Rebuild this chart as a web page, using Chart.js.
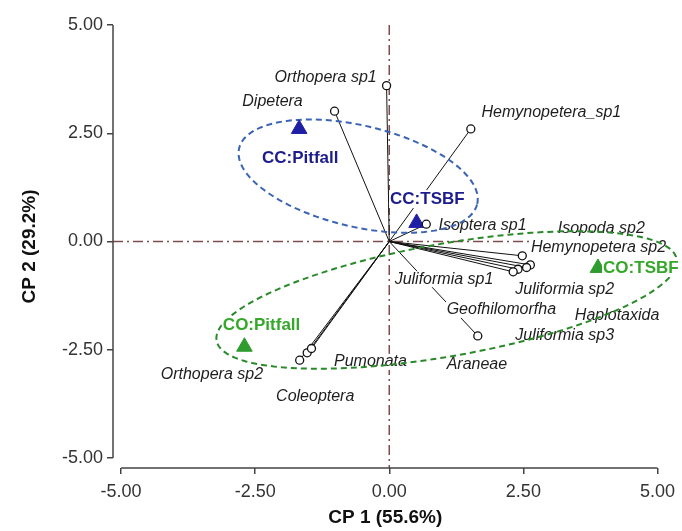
<!DOCTYPE html>
<html>
<head>
<meta charset="utf-8">
<script src="https://cdn.jsdelivr.net/npm/chart.js@4.4.1/dist/chart.umd.min.js"></script>
<style>
  html, body { margin: 0; padding: 0; background: #fff; }
  #wrap { width: 682px; height: 531px; position: relative; }
</style>
</head>
<body>
<div id="wrap"><canvas id="chart"></canvas></div>
<script>
// species vectors (end points of the biplot arrows)
const speciesX = [-0.05, -1.02, 1.52, 0.69, 2.48, 2.63, 2.56, 2.40, 2.31, 1.65, -1.67, -1.53, -1.45];
const speciesY = [3.60, 3.01, 2.60, 0.40, -0.33, -0.54, -0.60, -0.64, -0.70, -2.18, -2.74, -2.57, -2.47];

// species labels (placed where they sit in the figure)
const speciesLabels = ["Orthopera sp1", "Dipetera", "Hemynopetera_sp1", "Isoptera sp1", "Isopoda sp2",
  "Hemynopetera sp2", "Juliformia sp1", "Juliformia sp2", "Geofhilomorfha", "Haplotaxida",
  "Juliformia sp3", "Araneae", "Pumonata", "Orthopera sp2", "Coleoptera"];
const labelX = [-2.14, -2.74, 1.72, 0.92, 3.14, 2.64, 0.10, 2.35, 1.07, 3.46, 2.35, 1.07, -1.03, -4.26, -2.11];
const labelY = [3.78, 3.24, 2.97, 0.38, 0.31, -0.13, -0.87, -1.10, -1.58, -1.70, -2.18, -2.85, -2.78, -3.08, -3.57];

// treatment centroids
const groups = ["CC:Pitfall", "CC:TSBF", "CO:TSBF", "CO:Pitfall"];
const groupX = [-1.68, 0.51, 3.89, -2.70];
const groupY = [2.60, 0.43, -0.61, -2.43];
const groupLabelX = [-1.66, 0.71, 4.69, -2.38];
const groupLabelY = [1.93, 0.98, -0.61, -1.93];

// ellipses: center, first half axis, second half axis (data units)
const blueEllipse = [-0.58, 1.51, 2.22, -0.64, 0.21, 1.14];
const greenEllipse = [1.07, -1.35, 4.29, 0.94, 0.18, -1.28];

const xTicks = [-5, -2.5, 0, 2.5, 5];
const yTicks = [-5, -2.5, 0, 2.5, 5];

const BLUE = "#1f1fa6";
const GREEN = "#2f9c2f";

const vectorData = [];
speciesX.forEach((x, i) => {
  vectorData.push({ x: 0, y: 0 }, { x: x, y: speciesY[i] }, { x: x, y: null });
});

function px(chart, x, y) {
  return [chart.scales.x.getPixelForValue(x), chart.scales.y.getPixelForValue(y)];
}

function drawEllipse(chart, e, color) {
  const ctx = chart.ctx;
  ctx.save();
  ctx.strokeStyle = color;
  ctx.lineWidth = 2;
  ctx.setLineDash([6, 4]);
  ctx.beginPath();
  for (let k = 0; k <= 120; k++) {
    const t = (k / 120) * Math.PI * 2;
    const [u, v] = px(chart, e[0] + Math.cos(t) * e[2] + Math.sin(t) * e[4],
                             e[1] + Math.cos(t) * e[3] + Math.sin(t) * e[5]);
    if (k === 0) ctx.moveTo(u, v); else ctx.lineTo(u, v);
  }
  ctx.stroke();
  ctx.restore();
}

const biplot = {
  id: "biplot",
  beforeDatasetsDraw(chart) {
    const ctx = chart.ctx;
    const area = chart.chartArea;
    ctx.save();
    // reference lines
    ctx.strokeStyle = "#7d4c4c";
    ctx.lineWidth = 1.5;
    ctx.setLineDash([10, 4, 2, 4]);
    const [x0, y0] = px(chart, 0, 0);
    ctx.beginPath();
    ctx.moveTo(x0, area.top);
    ctx.lineTo(x0, area.bottom);
    ctx.moveTo(area.left, y0);
    ctx.lineTo(area.right, y0);
    ctx.stroke();
    // axis lines
    ctx.setLineDash([]);
    ctx.strokeStyle = "#444";
    ctx.lineWidth = 1.5;
    ctx.beginPath();
    ctx.moveTo(area.left, chart.scales.y.getPixelForValue(5));
    ctx.lineTo(area.left, chart.scales.y.getPixelForValue(-5));
    ctx.moveTo(chart.scales.x.getPixelForValue(-5), area.bottom);
    ctx.lineTo(chart.scales.x.getPixelForValue(5), area.bottom);
    ctx.stroke();
    ctx.restore();
  },
  afterDatasetDraw(chart, args) {
    if (args.index !== 2) return;
    const ctx = chart.ctx;
    ctx.save();
    ctx.font = "italic 16px 'Liberation Sans', Arial, sans-serif";
    ctx.textAlign = "left";
    ctx.textBaseline = "middle";
    speciesLabels.forEach((t, i) => {
      const [u, v] = px(chart, labelX[i], labelY[i]);
      const w = ctx.measureText(t).width;
      ctx.fillStyle = "#fff";
      ctx.fillRect(u - 1, v - 8, w + 2, 16);
      ctx.fillStyle = "#1e1e1e";
      ctx.fillText(t, u, v);
    });
    ctx.restore();
    drawEllipse(chart, blueEllipse, "#3b64b4");
    drawEllipse(chart, greenEllipse, "#2a8a2a");
  },
  afterDatasetsDraw(chart) {
    const ctx = chart.ctx;
    ctx.save();
    ctx.font = "bold 17px 'Liberation Sans', Arial, sans-serif";
    ctx.textAlign = "center";
    ctx.textBaseline = "middle";
    groups.forEach((t, i) => {
      const [u, v] = px(chart, groupLabelX[i], groupLabelY[i]);
      const w = ctx.measureText(t).width;
      ctx.fillStyle = "#fff";
      ctx.fillRect(u - w / 2 - 1, v - 9, w + 2, 18);
      ctx.fillStyle = i < 2 ? "#1c1c8c" : "#35a82a";
      ctx.fillText(t, u, v);
    });
    ctx.restore();
  }
};

const axisBase = {
  type: "linear",
  grid: { display: true, drawOnChartArea: false, drawTicks: true, tickLength: 6, color: "#444", lineWidth: 1.5 },
  border: { display: false },
};

new Chart(document.getElementById("chart"), {
  type: "scatter",
  data: {
    datasets: [
      {
        label: "species",
        data: speciesX.map((x, i) => ({ x: x, y: speciesY[i] })),
        pointStyle: "circle",
        pointRadius: 4,
        backgroundColor: "#fff",
        borderColor: "#111",
        borderWidth: 1.3,
        clip: false,
      },
      {
        label: "groups",
        data: groupX.map((x, i) => ({ x: x, y: groupY[i] })),
        pointStyle: "triangle",
        pointRadius: 9,
        backgroundColor: [BLUE, BLUE, GREEN, GREEN],
        borderColor: [BLUE, BLUE, GREEN, GREEN],
        borderWidth: 1,
        clip: false,
      },
      {
        label: "vectors",
        data: vectorData,
        showLine: true,
        spanGaps: false,
        pointRadius: 0,
        borderColor: "#111",
        borderWidth: 1,
        clip: false,
      },
    ],
  },
  options: {
    responsive: true,
    maintainAspectRatio: false,
    animation: false,
    layout: { padding: { top: 25, right: 22, left: 0, bottom: 0 } },
    plugins: { legend: { display: false }, tooltip: { enabled: false } },
    scales: {
      x: {
        ...axisBase,
        min: -5.15,
        max: 5,
        afterBuildTicks: (s) => { s.ticks = xTicks.map((v) => ({ value: v })); },
        afterFit: (s) => { s.height = 63; },
        ticks: { padding: 7, color: "#333", font: { size: 18, family: "'Liberation Sans', Arial" }, callback: (v) => Number(v).toFixed(2) },
        title: { display: true, text: "CP 1 (55.6%)", color: "#111", padding: { top: 0, bottom: 2 }, font: { size: 19, weight: "bold", family: "'Liberation Sans', Arial" } },
      },
      y: {
        ...axisBase,
        min: -5.23,
        max: 5,
        afterBuildTicks: (s) => { s.ticks = yTicks.map((v) => ({ value: v })); },
        afterFit: (s) => { s.width = 113; },
        ticks: { padding: 4, color: "#333", font: { size: 18, family: "'Liberation Sans', Arial" }, callback: (v) => Number(v).toFixed(2) },
        title: { display: true, text: "CP 2 (29.2%)", color: "#111", padding: { top: 18, bottom: 0 }, font: { size: 19, weight: "bold", family: "'Liberation Sans', Arial" } },
      },
    },
  },
  plugins: [biplot],
});
</script>
</body>
</html>
